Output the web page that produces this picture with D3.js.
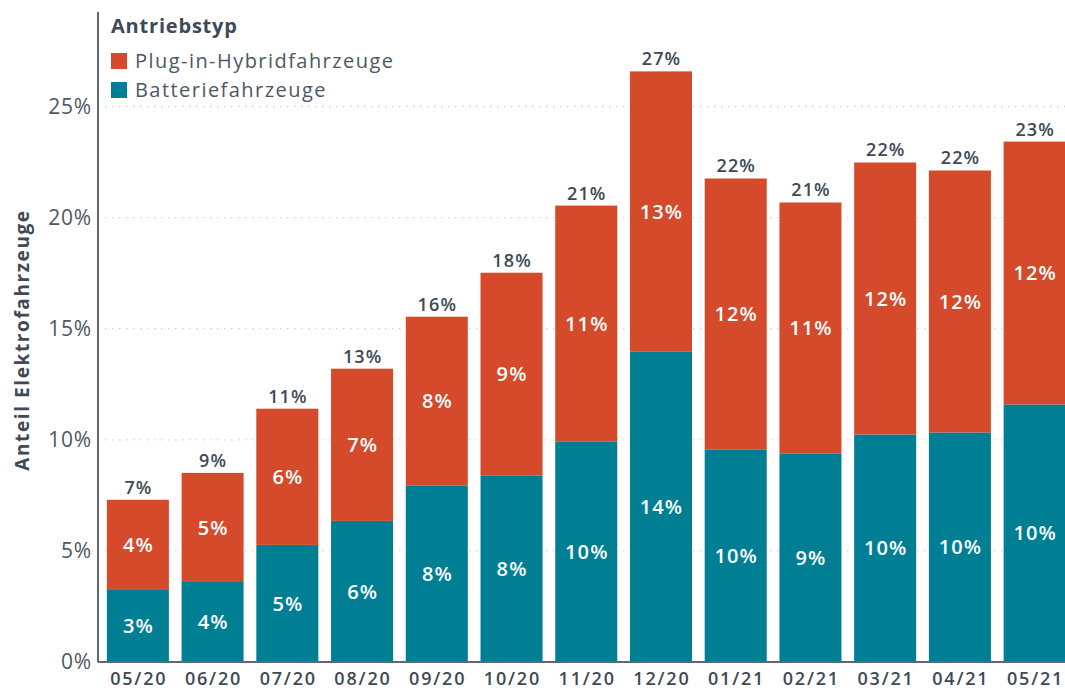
<!DOCTYPE html>
<html>
<head>
<meta charset="utf-8">
<script src="https://cdn.jsdelivr.net/npm/d3@7/dist/d3.min.js"></script>
<style>
  html, body { margin: 0; padding: 0; background: #fff; }
  svg { display: block; font-family: "Open Sans", sans-serif; }
</style>
</head>
<body>
<svg id="chart" width="1065" height="693"></svg>
<script>
// ── Data (Anteil in %) ────────────────────────────────────────────────────────
const months      = ['05/20','06/20','07/20','08/20','09/20','10/20','11/20','12/20','01/21','02/21','03/21','04/21','05/21'];
const bevValues   = [3.24, 3.60, 5.27, 6.35, 7.93, 8.38, 9.91, 13.96, 9.55, 9.37, 10.24, 10.33, 11.59];
const phevValues  = [4.06, 4.91, 6.13, 6.85, 7.61, 9.14, 10.63, 12.62, 12.21, 11.31, 12.24, 11.79, 11.83];
// labels as printed on the chart
const bevLabels   = ['3%','4%','5%','6%','8%','8%','10%','14%','10%','9%','10%','10%','10%'];
const phevLabels  = ['4%','5%','6%','7%','8%','9%','11%','13%','12%','11%','12%','12%','12%'];
const totalLabels = ['7%','9%','11%','13%','16%','18%','21%','27%','22%','21%','22%','22%','23%'];
const yTicks      = [0, 5, 10, 15, 20, 25];

const series = [
  {key: 'phev', name: 'Plug-in-Hybridfahrzeuge', color: '#d54a2a'},
  {key: 'bev',  name: 'Batteriefahrzeuge',       color: '#007f94'}
];

const W = 1065, H = 693;
const X0 = 98, Y0 = 662, YTOP = 12;
// Open Sans is narrower than the original face, so spread letters a little
const LS = 1.1;

const rows = months.map((m, i) => ({
  month: m, bev: bevValues[i], phev: phevValues[i],
  bevLabel: bevLabels[i], phevLabel: phevLabels[i], totalLabel: totalLabels[i]
}));

const svg = d3.select('#chart');

const x = d3.scaleBand().domain(months).range([100.5, 1072]).paddingInner(0.17).paddingOuter(0.085);
const y = d3.scaleLinear().domain([0, 25]).range([Y0, 106.5]);

// ── Gridlines ────────────────────────────────────────────────────────────────
svg.append('g')
  .selectAll('line').data(yTicks.filter(t => t > 0)).join('line')
  .attr('x1', X0).attr('x2', W)
  .attr('y1', d => y(d)).attr('y2', d => y(d))
  .attr('stroke', '#cfd3d6').attr('stroke-width', 1.3)
  .attr('stroke-dasharray', '1.5,5.5');

// ── Bars ─────────────────────────────────────────────────────────────────────
const stack = d3.stack().keys(['bev', 'phev'])(rows);
const colorOf = {bev: '#007f94', phev: '#d54a2a'};

svg.append('g')
  .selectAll('g').data(stack).join('g')
  .attr('fill', d => colorOf[d.key])
  .selectAll('rect').data(d => d).join('rect')
  .attr('x', d => x(d.data.month))
  .attr('width', x.bandwidth())
  .attr('y', d => y(d[1]))
  .attr('height', d => y(d[0]) - y(d[1]));

// segment labels
const segLabels = svg.append('g')
  .attr('fill', '#fff').attr('font-size', 20).attr('font-weight', 600)
  .attr('letter-spacing', LS).attr('text-anchor', 'middle');
stack.forEach(s => {
  segLabels.selectAll(null).data(s).join('text')
    .attr('x', d => x(d.data.month) + x.bandwidth() / 2 + LS / 2)
    .attr('y', d => (y(d[0]) + y(d[1])) / 2)
    .attr('dy', '0.36em')
    .text(d => s.key === 'bev' ? d.data.bevLabel : d.data.phevLabel);
});

// total labels
svg.append('g')
  .attr('fill', '#3e4a55').attr('font-size', 18).attr('font-weight', 600)
  .attr('letter-spacing', LS).attr('text-anchor', 'middle')
  .selectAll('text').data(rows).join('text')
  .attr('x', d => x(d.month) + x.bandwidth() / 2 + LS / 2)
  .attr('y', d => y(d.bev + d.phev) - 6)
  .text(d => d.totalLabel);

// ── Axes ─────────────────────────────────────────────────────────────────────
const yAxis = svg.append('g')
  .attr('transform', `translate(${X0},0)`)
  .call(d3.axisLeft(y).tickValues(yTicks).tickSize(0).tickPadding(6).tickFormat(d => d + '%'));
yAxis.select('.domain').remove();
yAxis.selectAll('text')
  .attr('font-family', '"Open Sans", sans-serif')
  .attr('font-size', 21).attr('fill', '#4d5863').attr('letter-spacing', 0.8);

svg.append('line')
  .attr('x1', X0).attr('x2', X0).attr('y1', YTOP).attr('y2', Y0)
  .attr('stroke', '#5d6873').attr('stroke-width', 2);

const xAxis = svg.append('g')
  .attr('transform', `translate(0,${Y0})`)
  .call(d3.axisBottom(x).tickSize(0).tickPadding(10));
xAxis.select('.domain')
  .attr('d', `M${X0},0H${W}`)
  .attr('stroke', '#5d6873').attr('stroke-width', 2);
xAxis.selectAll('text')
  .attr('font-family', '"Open Sans", sans-serif')
  .attr('font-size', 18).attr('font-weight', 600).attr('fill', '#3e4a55')
  .attr('letter-spacing', 1.8).attr('dx', 0.9);

// y title
svg.append('text')
  .attr('transform', `translate(29,${340}) rotate(-90)`)
  .attr('text-anchor', 'middle')
  .attr('font-size', 19).attr('font-weight', 700).attr('fill', '#3e4a55')
  .attr('letter-spacing', 1.6)
  .text('Anteil Elektrofahrzeuge');

// ── Legend ───────────────────────────────────────────────────────────────────
const legend = svg.append('g').attr('transform', 'translate(111,0)');
legend.append('text')
  .attr('x', 0).attr('y', 33)
  .attr('font-size', 20).attr('font-weight', 700).attr('fill', '#3e4a55')
  .attr('letter-spacing', 0.8)
  .text('Antriebstyp');
const item = legend.selectAll('g.item').data(series).join('g')
  .attr('class', 'item')
  .attr('transform', (d, i) => `translate(0,${53 + i * 29})`);
item.append('rect')
  .attr('width', 16).attr('height', 16).attr('fill', d => d.color);
item.append('text')
  .attr('x', 24).attr('y', 15)
  .attr('font-size', 20).attr('fill', '#4d5863')
  .attr('letter-spacing', 1.45)
  .text(d => d.name);
</script>
</body>
</html>
